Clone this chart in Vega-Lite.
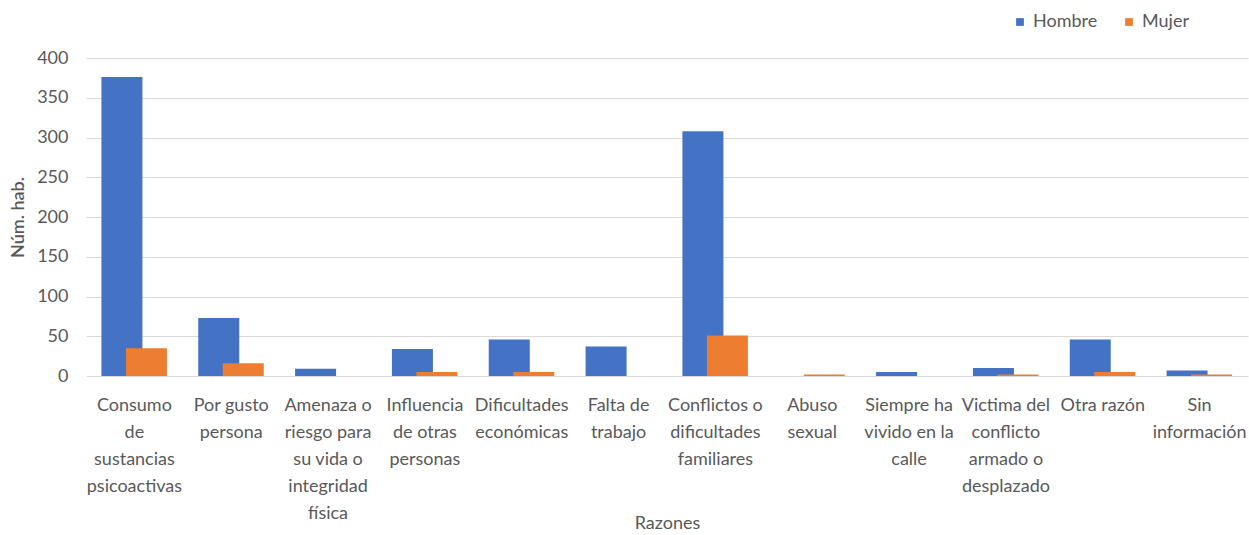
{
  "$schema": "https://vega.github.io/schema/vega-lite/v6.json",
  "width": 1162,
  "height": 318,
  "autosize": {"type": "none"},
  "padding": {"left": 86, "top": 58, "right": 1, "bottom": 159},
  "background": "white",
  "config": {
    "view": {"stroke": null},
    "font": "Lato",
    "axis": {"labelColor": "#595959", "titleColor": "#595959", "labelFont": "Lato", "titleFont": "Lato"},
    "legend": {"labelFont": "Lato", "labelColor": "#595959"}
  },
  "data": {
    "values": [
      {"razon": "Consumo\nde\nsustancias\npsicoactivas", "sexo": "Hombre", "n": 376},
      {"razon": "Consumo\nde\nsustancias\npsicoactivas", "sexo": "Mujer", "n": 35},
      {"razon": "Por gusto\npersona", "sexo": "Hombre", "n": 73},
      {"razon": "Por gusto\npersona", "sexo": "Mujer", "n": 16},
      {"razon": "Amenaza o\nriesgo para\nsu vida o\nintegridad\nfísica", "sexo": "Hombre", "n": 9},
      {"razon": "Amenaza o\nriesgo para\nsu vida o\nintegridad\nfísica", "sexo": "Mujer", "n": 0},
      {"razon": "Influencia\nde otras\npersonas", "sexo": "Hombre", "n": 34},
      {"razon": "Influencia\nde otras\npersonas", "sexo": "Mujer", "n": 5},
      {"razon": "Dificultades\neconómicas", "sexo": "Hombre", "n": 46},
      {"razon": "Dificultades\neconómicas", "sexo": "Mujer", "n": 5},
      {"razon": "Falta de\ntrabajo", "sexo": "Hombre", "n": 37},
      {"razon": "Falta de\ntrabajo", "sexo": "Mujer", "n": 0},
      {"razon": "Conflictos o\ndificultades\nfamiliares", "sexo": "Hombre", "n": 308},
      {"razon": "Conflictos o\ndificultades\nfamiliares", "sexo": "Mujer", "n": 51},
      {"razon": "Abuso\nsexual", "sexo": "Hombre", "n": 0},
      {"razon": "Abuso\nsexual", "sexo": "Mujer", "n": 2},
      {"razon": "Siempre ha\nvivido en la\ncalle", "sexo": "Hombre", "n": 5},
      {"razon": "Siempre ha\nvivido en la\ncalle", "sexo": "Mujer", "n": 0},
      {"razon": "Victima del\nconflicto\narmado o\ndesplazado", "sexo": "Hombre", "n": 10},
      {"razon": "Victima del\nconflicto\narmado o\ndesplazado", "sexo": "Mujer", "n": 2},
      {"razon": "Otra razón", "sexo": "Hombre", "n": 46},
      {"razon": "Otra razón", "sexo": "Mujer", "n": 5},
      {"razon": "Sin\ninformación", "sexo": "Hombre", "n": 7},
      {"razon": "Sin\ninformación", "sexo": "Mujer", "n": 2}
    ]
  },
  "encoding": {
    "x": {
      "field": "razon",
      "type": "nominal",
      "sort": null,
      "scale": {"paddingInner": 0, "paddingOuter": 0},
      "axis": {
        "title": "Razones",
        "titleFontSize": 18,
        "titleFontWeight": "normal",
        "titleY": 138,
        "titleBaseline": "top",
        "labelAngle": 0,
        "labelExpr": "split(datum.value, '\\n')",
        "labelFontSize": 18,
        "labelLineHeight": 27,
        "labelPadding": 20,
        "labelLimit": 200,
        "domain": false,
        "ticks": false
      }
    },
    "y": {
      "field": "n",
      "type": "quantitative",
      "scale": {"domain": [0, 400]},
      "axis": {
        "title": "Núm. hab.",
        "titleFontSize": 18,
        "titleFontWeight": 600,
        "titlePadding": 9,
        "values": [0, 50, 100, 150, 200, 250, 300, 350, 400],
        "labelFontSize": 18,
        "labelPadding": 18,
        "domain": false,
        "ticks": false,
        "gridColor": "#d9d9d9",
        "gridWidth": 1.2
      }
    },
    "color": {
      "field": "sexo",
      "type": "nominal",
      "scale": {"domain": ["Hombre", "Mujer"], "range": ["#4472C4", "#ED7D31"]},
      "legend": {
        "title": null,
        "orient": "none",
        "legendX": 925,
        "legendY": -45,
        "direction": "horizontal",
        "symbolType": "square",
        "symbolSize": 60,
        "symbolStrokeWidth": 0,
        "labelFontSize": 18,
        "columnPadding": 22,
        "labelOffset": 4
      }
    }
  },
  "layer": [
    {
      "transform": [{"filter": "datum.sexo === 'Hombre'"}],
      "mark": {"type": "bar", "width": 41, "xOffset": -12.5}
    },
    {
      "transform": [{"filter": "datum.sexo === 'Mujer'"}],
      "mark": {"type": "bar", "width": 41, "xOffset": 12}
    }
  ]
}
